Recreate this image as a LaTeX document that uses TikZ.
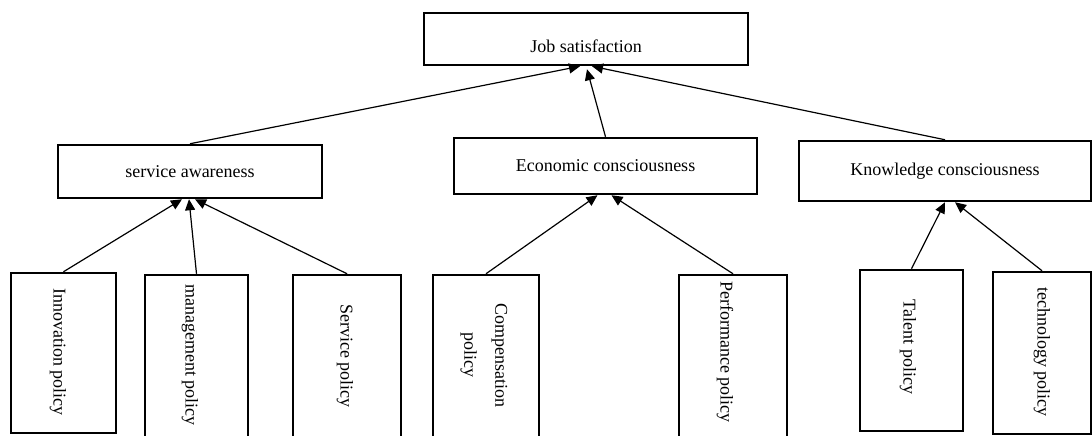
\documentclass[tikz,border=0pt]{standalone}
\usepackage{fontspec}
\setmainfont{Liberation Serif}
\usetikzlibrary{arrows.meta,calc}
\begin{document}
\begin{tikzpicture}[x=1pt,y=-1pt,
  box/.style={draw, line width=2.5pt, inner sep=0pt},
  lbl/.style={font=\fontsize{18}{31}\selectfont, inner sep=0pt, align=center},
  vlbl/.style={lbl, rotate=-90},
  conn/.style={line width=1.2pt, -{Triangle[length=11pt,width=10pt]}}]
\useasboundingbox (0,0) rectangle (1092,436);
% top level
\node[box, minimum width=324pt, minimum height=52pt] (job) at (586,39) {};
\node[lbl] (jobt) at (586,46) {Job satisfaction};
% middle level
\node[box, minimum width=264pt, minimum height=53pt, lbl] (sa) at (190,171.5) {service awareness};
\node[box, minimum width=303pt, minimum height=56pt, lbl] (ec) at (605.5,166) {Economic consciousness};
\node[box, minimum width=292pt, minimum height=60pt, lbl] (kc) at (945,171) {Knowledge consciousness};
% bottom level
\node[box, minimum width=105pt, minimum height=160pt] (inn) at (63.5,353) {};
\node[box, minimum width=103pt, minimum height=165pt] (mgt) at (196.5,357.5) {};
\node[box, minimum width=108pt, minimum height=165pt] (svc) at (347,357.5) {};
\node[box, minimum width=106pt, minimum height=165pt] (cmp) at (486,357.5) {};
\node[box, minimum width=108pt, minimum height=165pt] (prf) at (733,357.5) {};
\node[box, minimum width=103pt, minimum height=161pt] (tal) at (911.5,350.5) {};
\node[box, minimum width=98pt, minimum height=162pt] (tec) at (1042,353) {};
\node[vlbl] (innt) at (58,352) {Innovation policy};
\node[vlbl] (mgtt) at (190,355) {management policy};
\node[vlbl] (svct) at (345,356) {Service policy};
\node[vlbl] (cmpt) at (484,355) {Compensation\\policy};
\node[vlbl] (prft) at (725,352) {Performance policy};
\node[vlbl] (talt) at (908,347) {Talent policy};
\node[vlbl] (tect) at (1042,352) {technology policy};
% connectors to top
\draw[conn] (sa.north) -- ($(job.south)+(-6,0)$);
\draw[conn] (ec.north) -- ($(job.south)+(1,3)$);
\draw[conn] (kc.north) -- ($(job.south)+(6,0)$);
% connectors to middle
\draw[conn] (inn.north) -- ($(sa.south)+(-8,0)$);
\draw[conn] (mgt.north) -- ($(sa.south)+(-1,0)$);
\draw[conn] (svc.north) -- ($(sa.south)+(5,0)$);
\draw[conn] (cmp.north) -- ($(ec.south)+(-8,0)$);
\draw[conn] (prf.north) -- ($(ec.south)+(6,0)$);
\draw[conn] (tal.north) -- ($(kc.south)+(0,0)$);
\draw[conn] (tec.north) -- ($(kc.south)+(10,0)$);
\end{tikzpicture}
\end{document}
